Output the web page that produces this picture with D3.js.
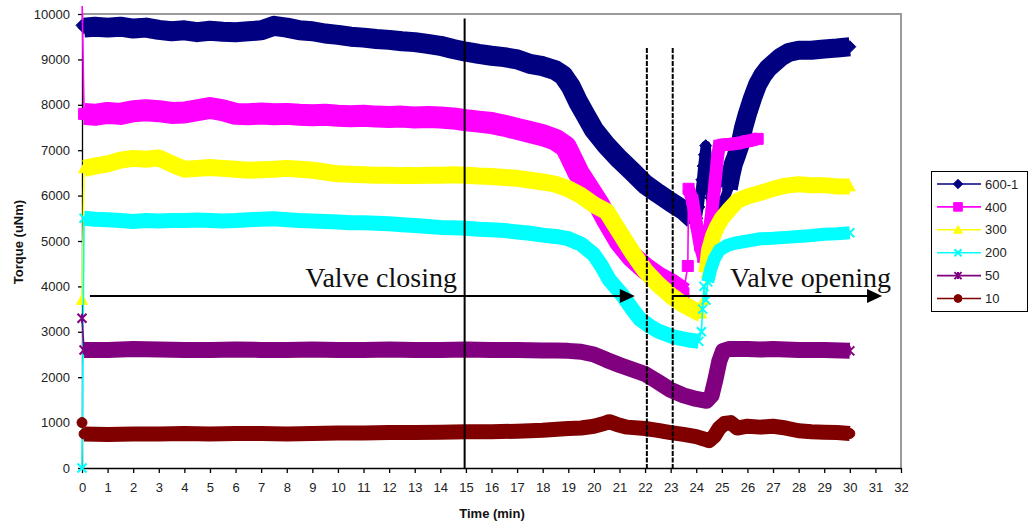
<!DOCTYPE html>
<html><head><meta charset="utf-8">
<script src="https://cdn.jsdelivr.net/npm/d3@7"></script>
<style>body{margin:0;background:#fff} svg{display:block}</style>
</head><body><svg id="chart" width="1031" height="523"></svg>
<script>
// Axis ticks
const xTicks = d3.range(0, 33);
const yTicks = d3.range(0, 10001, 1000);

// Series: [time (min), torque (uNm)]
const seriesNames = ["600-1", "400", "300", "200", "50", "10"];

const s600 = [[0,9750],[0.08,9700],[0.5,9720],[1,9700],[1.5,9720],[2,9680],[2.5,9700],[3,9650],[3.5,9620],[4,9640],[4.5,9600],[5,9630],[5.5,9610],[6,9600],[6.5,9620],[7,9640],[7.5,9740],[8,9700],[8.5,9640],[9,9620],[9.5,9570],[10,9540],[10.5,9500],[11,9480],[11.5,9450],[12,9430],[12.5,9400],[13,9380],[13.5,9340],[14,9300],[14.5,9230],[15,9170],[15.5,9120],[16,9080],[16.5,9050],[17,9000],[17.5,8900],[18,8850],[18.5,8760],[18.8,8650],[19.1,8400],[19.4,8050],[19.7,7750],[20,7450],[20.5,7100],[21,6800],[21.5,6530],[22,6250],[22.5,6050],[23,5860],[23.5,5680],[23.9,5480],[24.02,5500],[24.1,5750],[24.16,6050],[24.22,6350],[24.27,6650],[24.32,6900],[24.37,7100],[24.42,6850],[24.47,6550],[24.52,6250],[24.57,5950],[24.63,5700],[24.72,5550],[24.85,5600],[25,5750],[25.12,5950],[25.25,6150],[25.35,6450],[25.45,6700],[25.55,6850],[25.7,7100],[25.85,7500],[26,7800],[26.2,8150],[26.4,8450],[26.6,8650],[26.8,8800],[27,8900],[27.3,9050],[27.6,9150],[28,9200],[28.5,9200],[29,9230],[29.5,9250],[30,9280]];

const s400 = [[0,10400],[0.08,7800],[0.5,7780],[1,7820],[1.5,7800],[2,7860],[2.5,7880],[3,7860],[3.5,7820],[4,7830],[4.5,7880],[5,7930],[5.5,7880],[6,7800],[6.5,7790],[7,7810],[7.5,7790],[8,7800],[8.5,7780],[9,7770],[9.5,7780],[10,7760],[10.5,7750],[11,7760],[11.5,7740],[12,7730],[12.5,7740],[13,7720],[13.5,7730],[14,7720],[14.5,7700],[15,7660],[15.5,7630],[16,7600],[16.5,7540],[17,7470],[17.5,7400],[18,7330],[18.5,7230],[18.9,7080],[19.1,6850],[19.4,6500],[19.8,6150],[20.2,5800],[20.5,5480],[21,5000],[21.5,4650],[22,4400],[22.5,4200],[23,4050],[23.3,3930],[23.5,3850],[23.67,4450],[23.7,6150],[23.85,5900],[24,5400],[24.15,4900],[24.27,4650],[24.45,5000],[24.6,5600],[24.72,6200],[24.82,6800],[24.9,7100],[25.05,7120],[25.3,7130],[25.6,7150],[26,7200],[26.4,7250]];

const s300 = [[0,3700],[0.08,6600],[0.5,6650],[1,6700],[1.5,6780],[2,6820],[2.5,6800],[3,6830],[3.5,6700],[4,6580],[4.5,6600],[5,6620],[5.5,6600],[6,6580],[6.5,6560],[7,6570],[7.5,6580],[8,6600],[8.5,6580],[9,6560],[9.5,6520],[10,6480],[10.5,6470],[11,6460],[11.5,6450],[12,6450],[12.5,6440],[13,6440],[13.5,6450],[14,6450],[14.5,6460],[15,6450],[15.5,6430],[16,6420],[16.5,6400],[17,6380],[17.5,6340],[18,6300],[18.5,6250],[19,6150],[19.5,6000],[20,5800],[20.5,5650],[21,5200],[21.5,4750],[22,4350],[22.5,4050],[23,3800],[23.5,3600],[24,3450],[24.2,3400],[24.3,3700],[24.4,4300],[24.5,4800],[24.65,5100],[24.8,5300],[25,5500],[25.3,5700],[25.6,5880],[26,5980],[26.5,6060],[27,6150],[27.5,6220],[28,6250],[28.5,6230],[29,6230],[29.5,6200],[30,6200]];

const s200 = [[0,0],[0.08,5500],[0.5,5480],[1,5470],[1.5,5450],[2,5430],[2.5,5450],[3,5440],[3.5,5450],[4,5450],[4.5,5460],[5,5450],[5.5,5440],[6,5450],[6.5,5470],[7,5480],[7.5,5490],[8,5470],[8.5,5450],[9,5440],[9.5,5430],[10,5420],[10.5,5400],[11,5400],[11.5,5390],[12,5380],[12.5,5360],[13,5340],[13.5,5320],[14,5300],[14.5,5290],[15,5280],[15.5,5260],[16,5250],[16.5,5230],[17,5200],[17.5,5170],[18,5130],[18.5,5100],[19,5050],[19.5,4930],[20,4700],[20.3,4450],[20.6,4150],[21.1,3820],[21.5,3500],[21.8,3280],[22.2,3120],[22.5,3020],[23.1,2890],[23.7,2820],[24.1,2790],[24.2,3000],[24.25,3500],[24.3,4000],[24.38,3700],[24.45,4100],[24.55,4350],[24.7,4600],[24.9,4800],[25.2,4900],[25.5,4950],[26,5000],[26.5,5050],[27,5060],[27.5,5080],[28,5100],[28.5,5120],[29,5150],[29.5,5160],[30,5180]];

const s50 = [[0,3300],[0.08,2600],[1,2600],[2,2620],[3,2610],[4,2600],[5,2600],[6,2610],[7,2600],[8,2600],[9,2610],[10,2600],[11,2600],[12,2610],[13,2600],[14,2600],[15,2610],[16,2600],[17,2600],[18,2590],[18.5,2590],[19,2580],[19.5,2560],[20,2500],[20.5,2380],[21,2270],[21.5,2170],[22,2070],[22.5,1900],[23,1720],[23.5,1600],[24,1520],[24.4,1480],[24.6,1600],[24.75,1950],[24.9,2350],[25.05,2580],[25.3,2620],[26,2620],[26.5,2610],[27,2620],[28,2600],[29,2600],[30,2580]];

const s10 = [[0,1000],[0.08,750],[1,740],[2,750],[3,750],[4,760],[5,750],[6,760],[7,760],[8,750],[9,760],[10,770],[11,770],[12,780],[13,780],[14,790],[15,800],[16,800],[17,810],[18,830],[19,870],[19.5,880],[20,920],[20.4,980],[20.6,1020],[20.9,960],[21.3,900],[22,870],[22.5,830],[23,780],[23.5,740],[24,690],[24.3,640],[24.5,600],[24.7,700],[24.9,880],[25.1,980],[25.35,1000],[25.6,880],[26,920],[26.5,900],[27,920],[27.5,880],[28,820],[28.5,800],[29,790],[29.5,780],[30,760]];

const seriesData = [s600, s400, s300, s200, s50, s10];

// Styling per series
const colors = ["#000080", "#ff00ff", "#ffff00", "#00ffff", "#800080", "#800000"];
const markerTypes = ["diamond", "square", "triangle", "x", "star", "circle"];
// [from, to, width]: time spans where the dense sampling forms a solid band
const bandSpans = [
  [[0.08, 23.9, 20], [23.9, 25.25, 10], [25.25, 30, 19]],
  [[0.08, 23.5, 22], [23.7, 26.4, 13]],
  [[0.08, 24.2, 17], [24.4, 30, 16]],
  [[0.08, 24.1, 15], [24.45, 30, 13]],
  [[0.08, 30, 16]],
  [[0.08, 30, 15]]
];

// Event markers (min) and arrow level (uNm)
const closeStart = 14.95, phaseA = 22.07, phaseB = 23.08;
const arrowLevel = 3790;

const svg = d3.select("#chart");
svg.append("rect").attr("width", 1031).attr("height", 523).attr("fill", "#fff");

const x = d3.scaleLinear().domain([0, 32]).range([82, 901]);
const y = d3.scaleLinear().domain([0, 10000]).range([468, 14]);

const font = "'Liberation Sans', Arial, sans-serif";

// plot frame (top and right)
svg.append("path")
  .attr("d", `M${x(0)},${y(10000)}H${x(32)}V${y(0)}`)
  .attr("fill", "none").attr("stroke", "#9a9a9a").attr("stroke-width", 2);

// axes
const yAxis = svg.append("g").attr("transform", `translate(${x(0)},0)`)
  .call(d3.axisLeft(y).tickValues(yTicks).tickSize(4).tickSizeOuter(0).tickPadding(8).tickFormat(d3.format("d")));
const xAxis = svg.append("g").attr("transform", `translate(0,${y(0)})`)
  .call(d3.axisBottom(x).tickValues(xTicks).tickSize(5).tickSizeOuter(0).tickPadding(10).tickFormat(d3.format("d")));
[yAxis, xAxis].forEach(g => {
  g.selectAll("path,line").attr("stroke", "#000").attr("stroke-width", 1.3);
  g.selectAll("text").attr("font-family", font).attr("font-size", 13).attr("fill", "#222");
});

// axis titles
svg.append("text").attr("transform", `translate(23,242) rotate(-90)`)
  .attr("text-anchor", "middle").attr("font-family", font).attr("font-size", 13)
  .attr("font-weight", "bold").attr("fill", "#111").text("Torque (uNm)");
svg.append("text").attr("x", 492).attr("y", 518)
  .attr("text-anchor", "middle").attr("font-family", font).attr("font-size", 13)
  .attr("font-weight", "bold").attr("fill", "#111").text("Time (min)");

// marker shapes
function markerPath(type, r) {
  switch (type) {
    case "diamond": return `M0,${-r}L${r},0L0,${r}L${-r},0Z`;
    case "square": return `M${-r},${-r}H${r}V${r}H${-r}Z`;
    case "triangle": return `M0,${-r}L${r},${r * 0.8}L${-r},${r * 0.8}Z`;
    case "circle": return `M${r},0A${r},${r} 0 1 1 ${-r},0A${r},${r} 0 1 1 ${r},0Z`;
    case "x": return `M${-r},${-r}L${r},${r}M${-r},${r}L${r},${-r}`;
    case "star": return `M${-r},${-r}L${r},${r}M${-r},${r}L${r},${-r}M0,${-r}V${r}`;
  }
}
const markerRadius = { diamond: 6, square: 5.5, triangle: 5.5, circle: 5, x: 4.5, star: 4.5 };
const stroked = t => t === "x" || t === "star";

function drawMarker(g, type, color, cx, cy, scale) {
  const r = markerRadius[type] * (scale || 1);
  g.append("path").attr("transform", `translate(${cx},${cy})`)
    .attr("d", markerPath(type, r))
    .attr("fill", stroked(type) ? "none" : color)
    .attr("stroke", color).attr("stroke-width", stroked(type) ? 2 : 1);
}

// clip to plot area with a little room for markers at the edges
svg.append("clipPath").attr("id", "plotClip").append("rect")
  .attr("x", x(0) - 9).attr("y", 6).attr("width", x(32) - x(0) + 9).attr("height", y(0) - 6 + 9);

const plot = svg.append("g").attr("clip-path", "url(#plotClip)");
const line = d3.line().x(d => x(d[0])).y(d => y(d[1]));

seriesData.forEach((data, i) => {
  const g = plot.append("g");
  const color = colors[i];
  bandSpans[i].forEach(([t0, t1, w]) => {
    const seg = data.filter(d => d[0] >= t0 && d[0] <= t1);
    g.append("path").attr("d", line(seg)).attr("fill", "none")
      .attr("stroke", color).attr("stroke-width", w)
      .attr("stroke-linejoin", "round").attr("stroke-linecap", "butt");
  });
  g.append("path").attr("d", line(data)).attr("fill", "none")
    .attr("stroke", color).attr("stroke-width", 1.6);
  data.forEach(d => drawMarker(g, markerTypes[i], color, x(d[0]), y(d[1])));
});

// event lines
svg.append("line").attr("x1", x(closeStart)).attr("x2", x(closeStart))
  .attr("y1", y(9900)).attr("y2", y(0)).attr("stroke", "#000").attr("stroke-width", 2);
[phaseA, phaseB].forEach(t => {
  svg.append("line").attr("x1", x(t)).attr("x2", x(t))
    .attr("y1", y(9250)).attr("y2", y(0)).attr("stroke", "#000")
    .attr("stroke-width", 2).attr("stroke-dasharray", "5,1.5");
});

// arrows
function arrow(t0, t1) {
  const x0 = x(t0), x1 = x(t1), yy = y(arrowLevel);
  svg.append("line").attr("x1", x0).attr("x2", x1 - 10).attr("y1", yy).attr("y2", yy)
    .attr("stroke", "#000").attr("stroke-width", 2);
  svg.append("path").attr("d", `M${x1},${yy}L${x1 - 15},${yy - 7}L${x1 - 15},${yy + 7}Z`).attr("fill", "#000");
}
arrow(0.31, 21.6);
arrow(phaseB, 31.26);

const serif = "'Liberation Serif', 'Times New Roman', serif";
svg.append("text").attr("x", x(14.65)).attr("y", 287).attr("text-anchor", "end")
  .attr("font-family", serif).attr("font-size", 28).attr("fill", "#111").text("Valve closing");
svg.append("text").attr("x", x(25.32)).attr("y", 287).attr("text-anchor", "start")
  .attr("font-family", serif).attr("font-size", 28).attr("fill", "#111").text("Valve opening");

// legend
const legend = svg.append("g");
legend.append("rect").attr("x", 931.5).attr("y", 171.5).attr("width", 96).attr("height", 140)
  .attr("fill", "#fff").attr("stroke", "#000").attr("stroke-width", 1);
seriesNames.forEach((name, i) => {
  const ly = 184 + i * 22.9;
  legend.append("line").attr("x1", 937).attr("x2", 981).attr("y1", ly).attr("y2", ly)
    .attr("stroke", colors[i]).attr("stroke-width", 1.6);
  drawMarker(legend, markerTypes[i], colors[i], 958, ly, 0.78);
  legend.append("text").attr("x", 985).attr("y", ly).attr("dy", "0.36em")
    .attr("font-family", font).attr("font-size", 13).attr("fill", "#222").text(name);
});
</script></body></html>
